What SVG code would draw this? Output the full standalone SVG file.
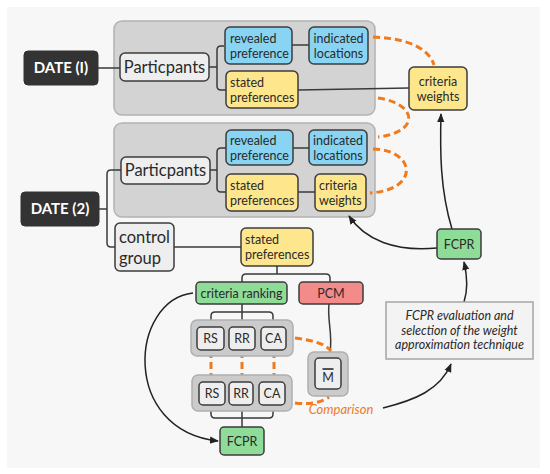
<svg xmlns="http://www.w3.org/2000/svg" width="550" height="474" viewBox="0 0 550 474">
<defs>
<marker id="ah" viewBox="0 0 10 10" refX="9" refY="5" markerWidth="6" markerHeight="6" orient="auto">
<path d="M0,1 L10,5 L0,9 z" fill="#222"/>
</marker>
<style>
text{font-family:Lato,"Liberation Sans",sans-serif;fill:#2a2a2a;}
.grp{fill:#d3d3d3;stroke:#b3b3b3;stroke-width:1.5;}
.sub{fill:#cbcbcb;stroke:#b0b0b0;stroke-width:1.5;}
.n{stroke:#3d3d3d;stroke-width:1.5;}
.w{fill:#eeeeee;}
.b{fill:#88d4f2;}
.y{fill:#fde68c;}
.g{fill:#8fdb98;}
.r{fill:#f48b8b;}
.d{fill:#333333;stroke:#333;}
.t{font-size:12.5px;}
.tl{font-size:16.5px;}
.td{font-size:15px;font-weight:bold;fill:#fff;}
.c{fill:none;stroke:#3a3a3a;stroke-width:1.5;}
.a{fill:none;stroke:#222;stroke-width:1.5;marker-end:url(#ah);}
.o{fill:none;stroke:#f07a1c;stroke-width:3;stroke-dasharray:7 4;}
</style>
</defs>
<rect x="0" y="0" width="550" height="474" fill="#ffffff"/>
<rect x="7" y="7" width="533" height="461" fill="#f7f7f7"/>

<g id="group1"><rect class="grp" x="114" y="21" width="261" height="94" rx="8"/></g>
<g id="group2"><rect class="grp" x="114" y="123" width="261" height="94" rx="8"/></g>

<g id="connectors">
<path class="c" d="M98,68 H120"/>
<path class="c" d="M209,67 H217 M224,46 H221 Q217,46 217,50 V86 Q217,90 221,90 H226"/>
<path class="c" d="M292,45 H309"/>
<path class="c" d="M298,90 L409,88"/>
<path class="c" d="M99,209 H107 M121,170 H111 Q107,170 107,174 V243 Q107,247 111,247 H115"/>
<path class="c" d="M210,170 H217 M226,148 H221 Q217,148 217,152 V188 Q217,192 221,192 H226"/>
<path class="c" d="M293,148 H309"/>
<path class="c" d="M298,192 H315"/>
<path class="c" d="M174,247 H241"/>
<path class="c" d="M277,266 V274 M242,282 V278 Q242,274 246,274 H326 Q330,274 330,278 V282"/>
<path class="c" d="M242,304 V312 M211,327 V316 Q211,312 215,312 H269 Q273,312 273,316 V327 M242,312 V327"/>
<path class="c" d="M211,405 V414 Q211,418 215,418 H269 Q273,418 273,414 V405 M242,405 V427"/>
<path class="c" d="M329,304 C327,320 333,335 330,352"/>
<path class="a" d="M193,293 C130,300 120,430 218,441"/>
<path class="a" d="M383,408 C415,400 440,390 451,364"/>
<path class="a" d="M464,302 C468,290 467,275 464,262"/>
<path class="a" d="M437,248 C395,252 365,240 349,216"/>
<path class="a" d="M452,229 C440,190 440,150 441,114"/>
<path class="o" d="M373,37 C400,38 428,45 434,65"/>
<path class="o" d="M378,98 C418,104 420,132 378,137"/>
<path class="o" d="M373,149 C416,150 420,190 370,193"/>
<path class="o" d="M295,338 C310,340 325,343 331,351"/>
<path class="o" d="M295,403 C310,405 322,402 329,397"/>
<path class="o" d="M211,351 V381 M242,351 V381 M274,351 V381"/>
</g>

<g id="date1"><rect class="d" x="24" y="51" width="74" height="34" rx="4"/><text class="td" x="61" y="73" text-anchor="middle">DATE (I)</text></g>
<g id="participants1"><rect class="n w" x="120" y="53" width="89" height="28" rx="5"/><text class="tl" x="164.5" y="73" text-anchor="middle">Particpants</text></g>
<g id="revealed1"><rect class="n b" x="225" y="27" width="67" height="37" rx="5"/><text class="t" x="230" y="43">revealed</text><text class="t" x="230" y="58">preference</text></g>
<g id="indicated1"><rect class="n b" x="309" y="27" width="59" height="37" rx="5"/><text class="t" x="338.5" y="43" text-anchor="middle">indicated</text><text class="t" x="338.5" y="58" text-anchor="middle">locations</text></g>
<g id="stated1"><rect class="n y" x="226" y="71" width="72" height="37" rx="5"/><text class="t" x="230" y="87">stated</text><text class="t" x="230" y="102">preferences</text></g>
<g id="weightsR"><rect class="n y" x="409" y="67" width="58" height="43" rx="5"/><text class="t" x="438" y="86" text-anchor="middle">criteria</text><text class="t" x="438" y="101" text-anchor="middle">weights</text></g>

<g id="date2"><rect class="d" x="21" y="192" width="78" height="34" rx="4"/><text class="td" x="60" y="214" text-anchor="middle">DATE (2)</text></g>
<g id="participants2"><rect class="n w" x="121" y="157" width="89" height="27" rx="5"/><text class="tl" x="165.5" y="176" text-anchor="middle">Particpants</text></g>
<g id="revealed2"><rect class="n b" x="226" y="130" width="67" height="35" rx="5"/><text class="t" x="230" y="145">revealed</text><text class="t" x="230" y="160">preference</text></g>
<g id="indicated2"><rect class="n b" x="309" y="130" width="58" height="35" rx="5"/><text class="t" x="338" y="145" text-anchor="middle">indicated</text><text class="t" x="338" y="160" text-anchor="middle">locations</text></g>
<g id="stated2"><rect class="n y" x="226" y="174" width="72" height="37" rx="5"/><text class="t" x="230" y="190">stated</text><text class="t" x="230" y="205">preferences</text></g>
<g id="weights2"><rect class="n y" x="315" y="174" width="51" height="37" rx="5"/><text class="t" x="319" y="190">criteria</text><text class="t" x="319" y="205">weights</text></g>

<g id="control"><rect class="n w" x="115" y="223" width="59" height="48" rx="5"/><text class="tl" x="119" y="243">control</text><text class="tl" x="119" y="264">group</text></g>
<g id="stated3"><rect class="n y" x="241" y="228" width="72" height="38" rx="5"/><text class="t" x="245" y="244">stated</text><text class="t" x="245" y="259">preferences</text></g>
<g id="ranking"><rect class="n g" x="196" y="282" width="91" height="22" rx="4"/><text class="t" x="241.5" y="297.5" text-anchor="middle">criteria ranking</text></g>
<g id="pcm"><rect class="n r" x="299" y="282" width="64" height="22" rx="4"/><text class="t" x="331" y="297.5" text-anchor="middle">PCM</text></g>

<g id="setA"><rect class="sub" x="191" y="320" width="102" height="36" rx="6"/>
<rect class="n w" x="197" y="327" width="27" height="23" rx="4"/><text class="t" x="210.5" y="343" text-anchor="middle">RS</text>
<rect class="n w" x="229" y="327" width="26" height="23" rx="4"/><text class="t" x="242" y="343" text-anchor="middle">RR</text>
<rect class="n w" x="261" y="327" width="25" height="23" rx="4"/><text class="t" x="273.5" y="343" text-anchor="middle">CA</text></g>
<g id="setB"><rect class="sub" x="192" y="375" width="100" height="36" rx="6"/>
<rect class="n w" x="199" y="382" width="26" height="23" rx="4"/><text class="t" x="212" y="398" text-anchor="middle">RS</text>
<rect class="n w" x="229" y="382" width="24" height="23" rx="4"/><text class="t" x="241" y="398" text-anchor="middle">RR</text>
<rect class="n w" x="259" y="382" width="26" height="23" rx="4"/><text class="t" x="272" y="398" text-anchor="middle">CA</text></g>
<g id="fcprB"><rect class="n g" x="220" y="427" width="44" height="28" rx="4"/><text class="t" x="242" y="445.5" text-anchor="middle">FCPR</text></g>

<g id="mean"><rect class="sub" x="308" y="352" width="40" height="44" rx="6"/><rect class="n w" x="315" y="358" width="26" height="31" rx="4"/><line x1="322.5" y1="369" x2="333.5" y2="369" stroke="#2a2a2a" stroke-width="1.6"/><text class="t" x="328" y="382" text-anchor="middle">M</text></g>
<text x="341" y="414" text-anchor="middle" font-size="13" font-style="italic" style="fill:#f07a1c">Comparison</text>

<g id="evaluation"><rect x="386" y="302" width="147" height="57" fill="#f4f3f3" stroke="#a5a5a5" stroke-width="1.5"/>
<text x="459.5" y="320" text-anchor="middle" font-size="12.5" font-style="italic">FCPR evaluation and</text>
<text x="459.5" y="334.5" text-anchor="middle" font-size="12.5" font-style="italic">selection of the weight</text>
<text x="459.5" y="349" text-anchor="middle" font-size="12.5" font-style="italic">approximation technique</text></g>
<g id="fcprR"><rect class="n g" x="437" y="229" width="44" height="30" rx="4"/><text class="t" x="459" y="248.5" text-anchor="middle">FCPR</text></g>
</svg>
